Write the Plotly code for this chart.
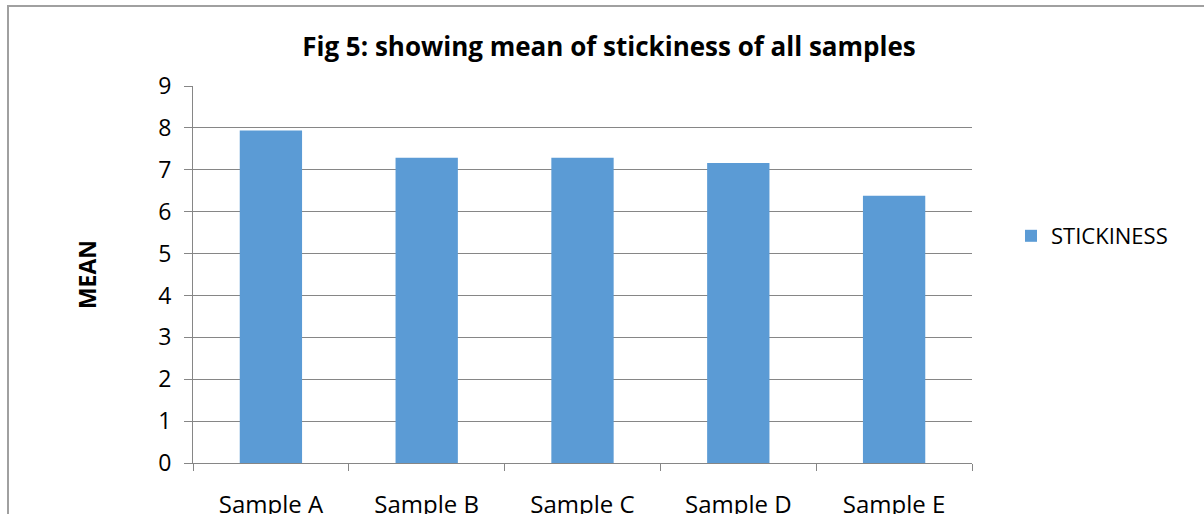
import plotly.graph_objects as go

categories = ["Sample A", "Sample B", "Sample C", "Sample D", "Sample E"]
stickiness = [7.94, 7.29, 7.29, 7.16, 6.38]
series_name = "STICKINESS"
title_text = "Fig 5: showing mean of stickiness of all samples"
y_title = "MEAN"
y_ticks = list(range(0, 10))

W, H = 1204, 514
L, R, T, B = 193, 232, 86, 51
pw, ph = W - L - R, H - T - B

FONT = "'Open Sans', Calibri, Carlito, sans-serif"

fig = go.Figure()
fig.add_trace(go.Bar(
    x=categories, y=stickiness, name=series_name,
    marker=dict(color="#5B9BD5", line=dict(width=0)),
    showlegend=True,
))

fig.update_layout(
    width=W, height=H,
    margin=dict(l=L, r=R, t=T, b=B, autoexpand=False),
    paper_bgcolor="white", plot_bgcolor="white",
    bargap=0.6,
    font=dict(family=FONT, color="black", size=19),
    title=dict(text="<b>" + title_text + "</b>", x=609 / W, xanchor="center",
               y=1 - 47 / H, yanchor="middle",
               font=dict(family=FONT, size=26, color="black")),
    xaxis=dict(
        showgrid=False, showline=True, linecolor="#868686", linewidth=1,
        ticks="outside", tickson="boundaries", ticklen=7, tickcolor="#868686",
        ticklabelstandoff=20,
        tickfont=dict(size=24, family=FONT),
        range=[-0.5, 4.5],
    ),
    yaxis=dict(
        range=[0, 9], tickvals=y_ticks, showgrid=True, gridcolor="#868686",
        gridwidth=1, showline=True, linecolor="#868686", linewidth=1,
        ticks="outside", ticklen=8, tickcolor="#868686",
        tickfont=dict(size=23, family=FONT), zeroline=False,
        ticklabelstandoff=8,
        title=dict(text="<b>" + y_title + "</b>", standoff=55,
                   font=dict(size=23, family=FONT)),
    ),
    legend=dict(x=(1011 - L) / pw, y=(H - B - 236) / ph, xanchor="left",
                yanchor="middle", font=dict(size=22, family=FONT),
                bgcolor="rgba(0,0,0,0)", itemwidth=30),
)

fig.add_shape(type="rect", xref="paper", yref="paper",
              x0=(8 - L) / pw, x1=(W + 20 - L) / pw,
              y0=(H - B - (H + 20)) / ph, y1=(H - B - 6) / ph,
              line=dict(color="#A0A0A0", width=2), fillcolor="rgba(0,0,0,0)",
              layer="below")

fig.write_html("out.html", config={"displayModeBar": False},
               post_script="document.body.style.margin='0px';")
